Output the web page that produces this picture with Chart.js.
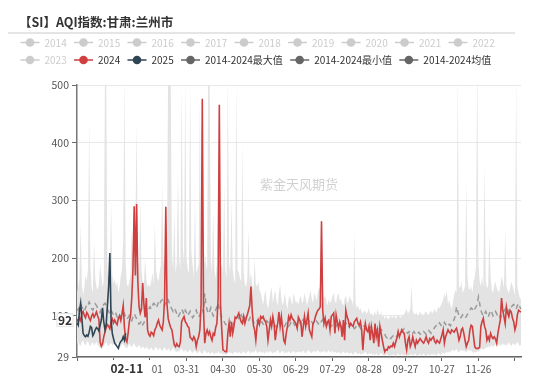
<!DOCTYPE html>
<html>
<head>
<meta charset="utf-8">
<script src="https://cdn.jsdelivr.net/npm/chart.js@4.4.1/dist/chart.umd.min.js"></script>
<style>
  html, body { margin: 0; padding: 0; background: #fff; }
  #wrap { width: 550px; height: 378px; position: relative; }
</style>
</head>
<body>
<div id="wrap"><canvas id="grafico"></canvas></div>
<script>
// ---- data (2024 calendar, one value per day) ----
const monthDays = [31, 29, 31, 30, 31, 30, 31, 31, 30, 31, 30, 31];
const yTicks = [29, 100, 200, 300, 400, 500];
const legendRow1 = ['2014', '2015', '2016', '2017', '2018', '2019', '2020', '2021', '2022'];
const legendRow2 = ['2023', '2024', '2025', '2014-2024最大值', '2014-2024最小值', '2014-2024均值'];

const aqi2024 = [
  95, 90, 97, 92, 104, 108, 101, 97, 106, 103, 96, 92, 100, 104, 98, 102, 107, 100, 94, 55, 48, 52, 64, 72, 80, 85, 82, 78, 90, 95, 88,
  93, 88, 85, 96, 100, 92, 104, 118, 80, 60, 55, 70, 90, 100, 130, 180, 290, 170, 294, 160, 116, 105, 112, 157, 120, 98, 131, 76, 68,
  65, 72, 70, 66, 76, 80, 88, 93, 84, 80, 76, 90, 130, 289, 120, 95, 87, 80, 76, 62, 50, 47, 52, 48, 47, 55, 90, 95, 99, 90, 87,
  82, 80, 63, 61, 58, 64, 60, 47, 58, 64, 76, 120, 476, 110, 53, 70, 76, 68, 73, 64, 58, 70, 67, 80, 87, 130, 466, 120, 76, 41,
  40, 38, 38, 70, 87, 64, 90, 70, 82, 98, 96, 100, 105, 96, 90, 87, 99, 87, 95, 102, 110, 118, 151, 110, 84, 76, 58, 82, 93, 86, 99,
  96, 99, 93, 90, 82, 58, 75, 93, 82, 99, 87, 58, 76, 87, 107, 82, 99, 79, 58, 53, 70, 82, 99, 93, 102, 96, 93, 90, 87, 79,
  98, 93, 90, 64, 82, 99, 82, 93, 105, 76, 70, 64, 87, 90, 99, 105, 110, 112, 116, 264, 110, 87, 96, 82, 90, 93, 76, 99, 102, 105, 70,
  102, 90, 79, 90, 82, 64, 93, 58, 110, 99, 93, 82, 87, 84, 82, 90, 93, 96, 87, 84, 90, 76, 41, 70, 87, 76, 73, 82, 58, 82, 70,
  53, 87, 64, 75, 47, 82, 70, 58, 47, 38, 42, 41, 47, 45, 48, 47, 53, 47, 55, 62, 73, 64, 70, 76, 72, 70, 53, 41, 58, 64,
  47, 53, 64, 55, 47, 58, 53, 57, 61, 58, 55, 53, 58, 64, 57, 53, 61, 58, 62, 64, 56, 53, 58, 55, 53, 60, 67, 76, 53, 64, 70,
  76, 72, 70, 76, 74, 72, 76, 79, 70, 58, 64, 76, 79, 70, 58, 47, 53, 58, 76, 84, 82, 64, 47, 44, 44, 44, 46, 82, 90, 96,
  82, 76, 58, 64, 58, 70, 64, 61, 64, 60, 53, 70, 82, 93, 131, 110, 99, 87, 116, 105, 99, 110, 107, 96, 90, 76, 84, 102, 110, 108, 107
];

const aqi2025 = [
  88, 84, 108, 122, 96, 70, 66, 64, 67, 65, 72, 82, 80, 66, 70, 76, 80, 78, 74, 84, 93, 114, 90, 76, 86, 118, 150, 209, 95, 70,
  61, 53, 50, 47, 44, 52, 56, 58, 64, 58, 70
];

const maxVals = [
  140, 150, 165, 260, 155, 135, 150, 170, 160, 180, 440, 190, 150, 140, 230, 165, 150, 145, 155, 190, 170, 150, 160, 520, 510, 180, 155, 150, 300, 170, 155,
  165, 150, 160, 140, 150, 170, 180, 230, 520, 190, 155, 150, 160, 170, 250, 200, 300, 250, 434, 200, 175, 300, 180, 160, 155, 200, 165, 150, 155,
  150, 160, 175, 155, 260, 180, 165, 160, 175, 190, 330, 200, 175, 300, 210, 560, 600, 520, 210, 180, 280, 175, 190, 350, 200, 180, 500, 220, 190, 510, 200,
  180, 175, 500, 210, 190, 165, 300, 175, 180, 190, 480, 200, 490, 175, 210, 190, 180, 600, 520, 200, 175, 280, 180, 165, 190, 350, 470, 180, 190, 175,
  330, 180, 165, 520, 190, 175, 300, 180, 165, 155, 510, 180, 175, 165, 160, 400, 175, 155, 150, 165, 250, 160, 175, 155, 145, 200, 155, 150, 160, 145, 140,
  130, 118, 135, 145, 122, 112, 126, 140, 150, 122, 135, 145, 126, 118, 140, 155, 130, 118, 126, 140, 122, 112, 130, 135, 126, 118, 140, 130, 122, 126,
  118, 130, 135, 122, 126, 140, 130, 118, 126, 135, 145, 130, 122, 140, 135, 126, 140, 150, 145, 275, 140, 130, 135, 126, 118, 130, 122, 126, 135, 140, 126,
  122, 135, 140, 126, 130, 122, 118, 130, 135, 126, 122, 135, 130, 126, 118, 244, 122, 114, 118, 110, 114, 108, 104, 110, 108, 104, 108, 114, 102, 106, 100,
  102, 108, 100, 112, 104, 100, 108, 98, 102, 95, 100, 97, 94, 98, 102, 96, 99, 101, 95, 99, 103, 99, 97, 101, 99, 104, 108, 112, 104, 107,
  112, 154, 108, 104, 102, 106, 100, 103, 108, 102, 104, 100, 106, 108, 103, 102, 106, 110, 104, 108, 113, 106, 110, 116, 113, 118, 123, 128, 138, 133, 143,
  120, 128, 118, 112, 124, 136, 145, 140, 520, 152, 148, 160, 140, 145, 152, 336, 168, 148, 145, 152, 140, 160, 168, 184, 560, 190, 160, 152, 168, 148,
  365, 160, 148, 152, 244, 168, 145, 140, 152, 160, 148, 145, 140, 152, 168, 160, 148, 250, 152, 145, 140, 148, 160, 152, 145, 136, 520, 152, 140, 132, 128
];

const minVals = [
  52, 55, 50, 48, 56, 58, 52, 49, 54, 57, 50, 47, 53, 55, 49, 52, 56, 50, 47, 45, 42, 44, 48, 52, 55, 50, 47, 51, 54, 49, 52,
  50, 47, 53, 55, 49, 46, 52, 50, 48, 45, 44, 47, 52, 49, 46, 50, 53, 48, 45, 47, 50, 46, 43, 48, 45, 42, 47, 44, 41,
  43, 46, 42, 40, 44, 47, 43, 41, 45, 42, 39, 43, 46, 42, 40, 44, 41, 38, 42, 45, 41, 39, 37, 40, 38, 42, 44, 40, 38, 41, 39,
  37, 40, 42, 38, 36, 39, 41, 37, 35, 38, 40, 36, 34, 38, 41, 37, 35, 39, 36, 34, 38, 36, 33, 37, 35, 39, 36, 34, 37, 33,
  34, 33, 33, 36, 38, 35, 37, 34, 36, 39, 37, 35, 38, 36, 34, 37, 39, 36, 35, 38, 40, 37, 35, 39, 36, 38, 41, 37, 36, 39, 38,
  36, 38, 35, 37, 39, 36, 38, 40, 37, 35, 38, 36, 39, 41, 37, 36, 38, 40, 37, 35, 38, 36, 39, 37, 35, 38, 40, 37, 36, 38,
  37, 39, 36, 38, 40, 37, 35, 38, 41, 39, 37, 36, 38, 40, 37, 39, 41, 38, 36, 39, 37, 40, 38, 36, 39, 41, 37, 38, 40, 36, 38,
  37, 35, 38, 36, 34, 37, 39, 36, 35, 38, 36, 34, 37, 35, 33, 36, 38, 35, 34, 36, 33, 35, 34, 36, 38, 35, 33, 36, 34, 35, 33,
  34, 32, 35, 33, 31, 34, 36, 33, 32, 31, 33, 34, 32, 30, 33, 31, 34, 32, 30, 33, 35, 32, 31, 34, 33, 31, 33, 32, 30, 33,
  32, 34, 31, 33, 35, 32, 30, 33, 34, 31, 33, 35, 32, 30, 33, 34, 31, 33, 35, 32, 34, 31, 33, 36, 34, 32, 35, 37, 34, 36, 38,
  36, 39, 37, 40, 42, 38, 41, 43, 39, 37, 40, 42, 38, 41, 39, 37, 40, 42, 39, 41, 38, 36, 38, 37, 39, 38, 40, 42, 44, 41,
  43, 46, 44, 48, 45, 47, 50, 46, 48, 51, 47, 49, 52, 48, 50, 53, 49, 51, 48, 52, 54, 50, 48, 51, 53, 49, 52, 55, 51, 48, 50
];

const avgVals = [
  112, 110, 118, 121, 116, 112, 108, 114, 120, 118, 124, 119, 113, 110, 116, 121, 118, 114, 110, 106, 112, 117, 120, 122, 118, 112, 108, 104, 110, 106, 102,
  100, 104, 98, 96, 102, 99, 95, 100, 104, 98, 94, 97, 101, 96, 92, 98, 104, 100, 95, 90, 86, 88, 92, 85, 88, 94, 100, 108, 112,
  116, 112, 118, 122, 120, 114, 118, 124, 120, 126, 128, 122, 118, 124, 130, 128, 122, 116, 112, 108, 113, 110, 104, 98, 102, 106, 112, 108, 102, 110, 106,
  100, 104, 108, 102, 97, 100, 106, 110, 104, 98, 102, 108, 112, 106, 139, 120, 110, 104, 108, 114, 106, 100, 104, 110, 116, 122, 112, 104, 98, 94,
  90, 86, 84, 88, 85, 90, 86, 83, 88, 92, 96, 100, 94, 98, 102, 96, 92, 98, 94, 90, 92, 96, 100, 94, 90, 86, 88, 92, 86, 84, 88,
  90, 86, 84, 88, 92, 89, 85, 82, 86, 90, 88, 84, 80, 84, 88, 91, 87, 83, 80, 84, 88, 86, 82, 85, 89, 92, 88, 84, 86, 90,
  92, 88, 85, 90, 94, 91, 87, 84, 88, 92, 95, 90, 86, 89, 93, 91, 88, 84, 87, 91, 94, 90, 86, 83, 87, 90, 86, 82, 85, 88, 84,
  82, 86, 89, 85, 81, 78, 82, 86, 88, 84, 80, 83, 87, 85, 81, 78, 80, 84, 86, 82, 79, 76, 80, 83, 81, 77, 74, 78, 81, 79, 76,
  78, 80, 76, 73, 76, 79, 77, 74, 71, 68, 64, 62, 65, 63, 61, 64, 66, 63, 62, 65, 68, 71, 74, 72, 76, 78, 75, 72, 70, 73,
  71, 68, 70, 73, 70, 67, 70, 72, 69, 67, 70, 73, 71, 68, 72, 75, 73, 70, 74, 77, 80, 83, 86, 84, 88, 85, 82, 86, 89, 85, 88,
  84, 86, 83, 87, 90, 94, 100, 116, 108, 100, 96, 98, 102, 100, 96, 99, 103, 106, 110, 114, 112, 108, 112, 116, 120, 133, 122, 110, 104, 100,
  104, 108, 102, 98, 104, 110, 106, 100, 103, 108, 104, 99, 102, 97, 100, 104, 108, 112, 116, 112, 106, 110, 115, 118, 120, 116, 112, 118, 122, 116, 112
];

// labels MM-DD
const labels = [];
monthDays.forEach((n, m) => {
  for (let d = 1; d <= n; d++) {
    labels.push(String(m + 1).padStart(2, '0') + '-' + String(d).padStart(2, '0'));
  }
});

const FONT = "'Noto Sans CJK SC', 'Noto Sans', sans-serif";
const RED = '#cf3f3f';
const NAVY = '#2f4554';
const GREY_OFF = '#cccccc';
const pointerX = '02-11';
const pointerY = 92;

Chart.defaults.font.family = FONT;

// title, legend, watermark and pointer labels
const deco = {
  id: 'deco',
  beforeDraw(chart) {
    const ctx = chart.ctx;
    ctx.save();
    ctx.fillStyle = '#333';
    ctx.font = 'bold 12.5px ' + FONT;
    ctx.textBaseline = 'middle';
    ctx.fillText('【SI】AQI指数:甘肃:兰州市', 19, 22);

    ctx.strokeStyle = '#dddddd';
    ctx.lineWidth = 1.5;
    ctx.beginPath();
    ctx.moveTo(8, 33);
    ctx.lineTo(515, 33);
    ctx.stroke();

    const colors = {
      '2024': [RED, '#333'],
      '2025': [NAVY, '#333'],
      '2014-2024最大值': ['#666', '#333'],
      '2014-2024最小值': ['#666', '#333'],
      '2014-2024均值': ['#666', '#333']
    };
    ctx.font = '10px ' + FONT;
    [[legendRow1, 42.5], [legendRow2, 60]].forEach(([row, y]) => {
      let x = 20.5;
      row.forEach(name => {
        const [mc, tc] = colors[name] || [GREY_OFF, GREY_OFF];
        ctx.strokeStyle = mc;
        ctx.lineWidth = 1.5;
        ctx.beginPath();
        ctx.moveTo(x, y);
        ctx.lineTo(x + 19, y);
        ctx.stroke();
        ctx.fillStyle = mc;
        ctx.beginPath();
        ctx.arc(x + 9.5, y, 4.3, 0, Math.PI * 2);
        ctx.fill();
        ctx.fillStyle = tc;
        ctx.fillText(name, x + 24, y + 0.5);
        x += 24 + ctx.measureText(name).width + 7.3;
      });
    });
    ctx.restore();
  },
  beforeDatasetsDraw(chart) {
    const ctx = chart.ctx;
    const a = chart.chartArea;
    ctx.save();
    ctx.fillStyle = 'rgba(150,150,150,0.45)';
    ctx.font = '13px ' + FONT;
    ctx.textAlign = 'center';
    ctx.textBaseline = 'middle';
    ctx.fillText('紫金天风期货', (a.left + a.right) / 2, 184);
    ctx.restore();
  },
  afterDraw(chart) {
    const ctx = chart.ctx;
    const xs = chart.scales.x, ys = chart.scales.y;
    ctx.save();
    ctx.font = 'bold 12px ' + FONT;
    ctx.textAlign = 'center';
    ctx.textBaseline = 'middle';

    const px = xs.getPixelForValue(labels.indexOf(pointerX));
    const w = ctx.measureText(pointerX).width + 16;
    ctx.fillStyle = '#fff';
    ctx.fillRect(px - w / 2, 360, w, 16);
    ctx.fillStyle = '#333';
    ctx.fillText(pointerX, px, 368.5);

    const py = ys.getPixelForValue(pointerY);
    ctx.fillStyle = '#fff';
    ctx.fillRect(57, py - 7, 16, 13);
    ctx.strokeStyle = '#e3e3e3';
    ctx.lineWidth = 1;
    ctx.strokeRect(57, py - 7, 16, 13);
    ctx.fillStyle = '#333';
    ctx.fillText(String(pointerY), 65, py);
    ctx.restore();
  }
};

new Chart(document.getElementById('grafico'), {
  type: 'line',
  data: {
    labels,
    datasets: [
      { label: '2014-2024最大值', data: maxVals, borderWidth: 0, pointRadius: 0, fill: '+1',
        backgroundColor: '#e3e3e3', borderColor: 'rgba(0,0,0,0)', order: 5 },
      { label: '2014-2024最小值', data: minVals, borderWidth: 0, pointRadius: 0, fill: false,
        borderColor: 'rgba(0,0,0,0)', order: 6 },
      { label: '2014-2024均值', data: avgVals, borderWidth: 1.5, pointRadius: 0, fill: false,
        borderColor: '#9a9a9a', borderDash: [5, 4], order: 3 },
      { label: '2024', data: aqi2024, borderWidth: 1.6, pointRadius: 0, fill: false,
        borderColor: RED, order: 2 },
      { label: '2025', data: aqi2025, borderWidth: 1.6, pointRadius: 0, fill: false,
        borderColor: NAVY, order: 1 }
    ]
  },
  options: {
    responsive: true,
    maintainAspectRatio: false,
    animation: false,
    layout: { padding: { top: 85, right: 29, bottom: 0, left: 0 } },
    plugins: {
      legend: { display: false },
      tooltip: { enabled: false },
      title: { display: false }
    },
    elements: { line: { tension: 0 } },
    scales: {
      x: {
        type: 'category',
        offset: false,
        afterBuildTicks(s) { s.ticks = s.ticks.filter(t => t.value % 30 === 0); },
        afterFit(s) { s.height = 21; },
        grid: { drawOnChartArea: false, drawTicks: true, tickLength: 4, tickColor: '#666' },
        border: { color: '#666', width: 1.5 },
        ticks: {
          autoSkip: false, maxRotation: 0, color: '#555', padding: 2,
          font: { size: 10 },
          callback(v) { return v >= 60 && v <= 330 ? this.getLabelForValue(v) : ''; }
        }
      },
      y: {
        min: 29,
        max: 500,
        afterBuildTicks(s) { s.ticks = yTicks.map(v => ({ value: v })); },
        afterFit(s) { s.width = 77; },
        grid: { color: '#e8e8e8', tickColor: '#666', tickLength: 5 },
        border: { color: '#777', width: 1.5 },
        ticks: { color: '#555', padding: 3, font: { size: 10.5 } }
      }
    }
  },
  plugins: [deco]
});
</script>
</body>
</html>
